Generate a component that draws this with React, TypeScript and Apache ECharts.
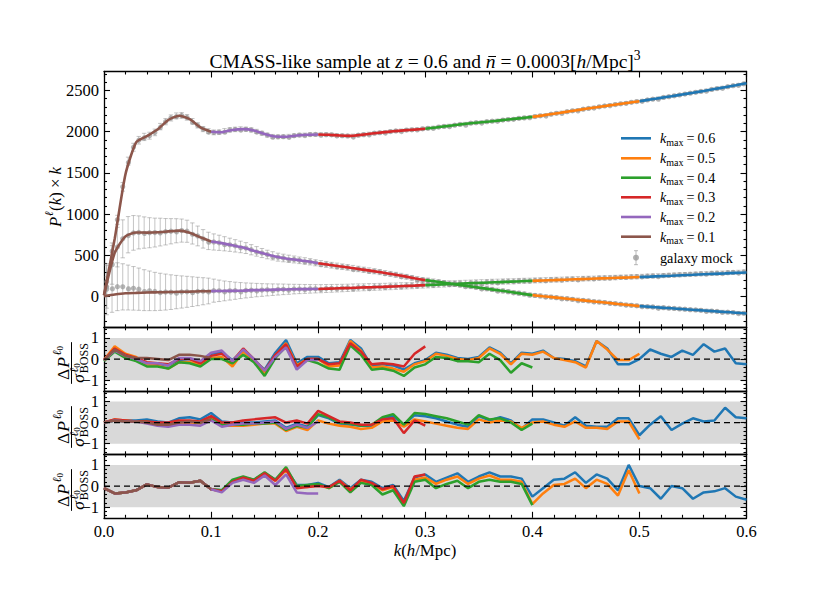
import React, { useEffect, useRef } from "react";
import * as echarts from "echarts";

const FONT = '"Liberation Serif", "Times New Roman", serif';

const KMAX = [0.6, 0.5, 0.4, 0.3, 0.2, 0.1];
const KMAX_LABELS = ["0.6", "0.5", "0.4", "0.3", "0.2", "0.1"];
const COLORS = ["#1f77b4", "#ff7f0e", "#2ca02c", "#d62728", "#9467bd", "#8c564b"];

const Y_MAIN_MAJOR = [0, 500, 1000, 1500, 2000, 2500];
const Y_MAIN_MINOR = [-300, -200, -100, 100, 200, 300, 400, 600, 700, 800, 900, 1100, 1200, 1300, 1400, 1600, 1700, 1800, 1900, 2100, 2200, 2300, 2400, 2600, 2700];
const Y_RES_MAJOR = [-1, 0, 1];
const Y_RES_MINOR = [-1.4, -1.2, -0.8, -0.6, -0.4, -0.2, 0.2, 0.4, 0.6, 0.8, 1.2, 1.4];
const BAND = [-1, 1];

// model k grid
const K_MODEL = [0.00, 0.01, 0.02, 0.03, 0.04, 0.05, 0.06, 0.07, 0.08, 0.09, 0.10, 0.11, 0.12, 0.13, 0.14, 0.15, 0.16, 0.17, 0.18, 0.19, 0.20, 0.21, 0.22, 0.23, 0.24, 0.25, 0.26, 0.27, 0.28, 0.29, 0.30, 0.31, 0.32, 0.33, 0.34, 0.35, 0.36, 0.37, 0.38, 0.39, 0.40, 0.41, 0.42, 0.43, 0.44, 0.45, 0.46, 0.47, 0.48, 0.49, 0.50, 0.51, 0.52, 0.53, 0.54, 0.55, 0.56, 0.57, 0.58, 0.59, 0.60];

const P0_MODEL = [20, 700, 1480, 1870, 1945, 2025, 2140, 2192, 2150, 2052,
  1998, 1992, 2020, 2030, 2013, 1970, 1940, 1937, 1952, 1962,
  1965, 1962, 1952, 1948, 1960, 1976, 1990, 2003, 2014, 2024,
  2034, 2050, 2066, 2082, 2098, 2110, 2122, 2136, 2150, 2163,
  2178, 2196, 2216, 2236, 2256, 2276, 2295, 2314, 2332, 2350,
  2368, 2388, 2408, 2428, 2450, 2470, 2492, 2515, 2538, 2561, 2585];
const P2_MODEL = [15, 530, 730, 777, 775, 779, 790, 800, 775, 720,
  668, 648, 622, 595, 555, 518, 485, 462, 445, 428,
  405, 385, 367, 350, 330, 312, 292, 270, 248, 222,
  200, 182, 163, 145, 127, 109, 91, 73, 55, 36,
  18, 4, -9, -22, -36, -49, -62, -75, -89, -102,
  -115, -124, -133, -142, -151, -160, -168, -177, -186, -195, -204];
const P4_MODEL = [5, 25, 40, 45, 50, 52, 55, 58, 60, 64,
  67, 68, 70, 73, 78, 80, 84, 87, 90, 91,
  93, 97, 101, 105, 110, 114, 118, 123, 128, 133,
  139, 144, 150, 155, 161, 166, 171, 176, 181, 186,
  191, 196, 200, 205, 210, 214, 219, 223, 228, 232,
  237, 242, 248, 253, 259, 264, 270, 276, 281, 287, 293];

// galaxy mock (bin centres)
const K_MOCK = [0.0025, 0.0075, 0.0125, 0.0175, 0.0225, 0.0275, 0.0325, 0.0375, 0.0425, 0.0475,
  0.0525, 0.0575, 0.0625, 0.0675, 0.0725, 0.0775, 0.0825, 0.0875, 0.0925, 0.0975,
  0.1025, 0.1075, 0.1125, 0.1175, 0.1225, 0.1275, 0.1325, 0.1375, 0.1425, 0.1475,
  0.1525, 0.1575, 0.1625, 0.1675, 0.1725, 0.1775, 0.1825, 0.1875, 0.1925, 0.1975,
  0.2025, 0.2075, 0.2125, 0.2175, 0.2225, 0.2275, 0.2325, 0.2375, 0.2425, 0.2475,
  0.2525, 0.2575, 0.2625, 0.2675, 0.2725, 0.2775, 0.2825, 0.2875, 0.2925, 0.2975,
  0.3025, 0.3075, 0.3125, 0.3175, 0.3225, 0.3275, 0.3325, 0.3375, 0.3425, 0.3475,
  0.3525, 0.3575, 0.3625, 0.3675, 0.3725, 0.3775, 0.3825, 0.3875, 0.3925, 0.3975,
  0.4025, 0.4075, 0.4125, 0.4175, 0.4225, 0.4275, 0.4325, 0.4375, 0.4425, 0.4475,
  0.4525, 0.4575, 0.4625, 0.4675, 0.4725, 0.4775, 0.4825, 0.4875, 0.4925, 0.4975,
  0.5025, 0.5075, 0.5125, 0.5175, 0.5225, 0.5275, 0.5325, 0.5375, 0.5425, 0.5475,
  0.5525, 0.5575, 0.5625, 0.5675, 0.5725, 0.5775, 0.5825, 0.5875, 0.5925, 0.5975];

const P0_MOCK = [180, 560, 930, 1330, 1640, 1810, 1895, 1935, 1950, 1990,
  2060, 2120, 2165, 2190, 2195, 2172, 2125, 2075, 2030, 2005,
  1990, 1992, 2008, 2020, 2026, 2032, 2028, 2020, 2002, 1980,
  1957, 1942, 1936, 1938, 1944, 1950, 1957, 1960, 1964, 1965,
  1966, 1963, 1960, 1955, 1950, 1947, 1950, 1956, 1963, 1972,
  1980, 1986, 1994, 2000, 2007, 2012, 2018, 2022, 2028, 2033,
  2040, 2046, 2055, 2062, 2070, 2078, 2086, 2094, 2102, 2108,
  2114, 2120, 2126, 2133, 2140, 2146, 2153, 2160, 2166, 2174,
  2182, 2191, 2200, 2210, 2221, 2231, 2241, 2251, 2261, 2271,
  2281, 2291, 2300, 2310, 2319, 2328, 2337, 2346, 2355, 2364,
  2373, 2383, 2393, 2403, 2413, 2423, 2434, 2444, 2455, 2465,
  2476, 2487, 2498, 2510, 2521, 2532, 2544, 2556, 2567, 2579];
const P2_MOCK = [120, 400, 600, 700, 750, 772, 778, 776, 774, 776,
  782, 786, 792, 798, 800, 792, 765, 735, 700, 675,
  662, 652, 640, 628, 615, 602, 588, 568, 548, 528,
  510, 494, 478, 468, 458, 450, 440, 432, 422, 410,
  400, 390, 380, 371, 362, 354, 345, 335, 325, 316,
  307, 297, 286, 275, 264, 253, 240, 227, 215, 203,
  196, 187, 178, 168, 159, 150, 141, 132, 123, 114,
  105, 96, 87, 78, 69, 60, 50, 41, 32, 22,
  14, 8, 1, -6, -13, -19, -26, -33, -39, -46,
  -52, -59, -66, -72, -79, -86, -92, -99, -105, -112,
  -117, -122, -126, -131, -135, -140, -144, -149, -153, -158,
  -162, -166, -171, -175, -180, -184, -189, -193, -198, -202];
const P4_MOCK = [90, 110, 120, 118, 110, 100, 90, 78, 70, 62,
  58, 55, 54, 55, 56, 58, 60, 62, 65, 68,
  72, 70, 69, 70, 71, 73, 75, 77, 79, 80,
  82, 84, 86, 88, 89, 91, 92, 93, 94, 95,
  96, 98, 100, 102, 104, 106, 109, 111, 113, 115,
  117, 119, 121, 124, 126, 129, 131, 134, 137, 140,
  143, 146, 149, 152, 155, 158, 161, 164, 166, 169,
  172, 174, 177, 179, 182, 184, 186, 189, 191, 193,
  196, 198, 200, 203, 205, 207, 210, 212, 214, 217,
  219, 221, 224, 226, 229, 231, 234, 236, 239, 241,
  244, 247, 250, 252, 255, 258, 261, 264, 267, 270,
  273, 276, 279, 282, 284, 287, 290, 293, 296, 299];

const E0_MOCK = [60, 58, 55, 52, 50, 48, 46, 44, 42, 40,
  39, 38, 37, 36, 35, 34, 33, 32, 31, 30,
  29, 28, 28, 27, 27, 26, 26, 25, 25, 24,
  24, 23, 23, 22, 22, 22, 21, 21, 21, 20,
  20, 20, 20, 20, 20, 20, 20, 20, 20, 20,
  19, 19, 19, 19, 19, 19, 19, 19, 19, 19,
  19, 19, 19, 19, 19, 18, 18, 18, 18, 18,
  18, 18, 18, 18, 18, 18, 18, 18, 18, 18,
  18, 18, 18, 18, 18, 18, 18, 18, 18, 18,
  17, 17, 17, 17, 17, 17, 17, 17, 17, 17,
  17, 17, 17, 17, 17, 17, 17, 17, 17, 17,
  17, 17, 17, 17, 17, 17, 17, 17, 17, 17];
const E2_MOCK = [260, 250, 240, 230, 220, 210, 200, 190, 182, 175,
  168, 160, 153, 146, 140, 134, 128, 120, 112, 105,
  98, 92, 86, 80, 75, 70, 66, 62, 58, 55,
  52, 50, 48, 46, 44, 42, 40, 39, 38, 37,
  36, 36, 35, 35, 34, 34, 33, 33, 32, 32,
  31, 31, 30, 30, 30, 29, 29, 29, 28, 28,
  28, 27, 27, 27, 27, 26, 26, 26, 26, 25,
  25, 25, 25, 24, 24, 24, 24, 24, 23, 23,
  23, 23, 23, 22, 22, 22, 22, 22, 22, 21,
  21, 21, 21, 21, 21, 21, 20, 20, 20, 20,
  20, 20, 20, 20, 20, 19, 19, 19, 19, 19,
  19, 19, 19, 19, 18, 18, 18, 18, 18, 18];
const E4_MOCK = [310, 300, 290, 280, 272, 264, 256, 248, 240, 232,
  225, 218, 210, 202, 195, 188, 180, 172, 164, 156,
  140, 130, 120, 112, 104, 97, 91, 86, 81, 77,
  73, 70, 67, 64, 61, 58, 56, 54, 52, 50,
  49, 48, 47, 46, 45, 44, 44, 43, 42, 42,
  41, 41, 40, 40, 39, 39, 38, 38, 37, 37,
  37, 37, 36, 36, 35, 35, 35, 34, 34, 34,
  33, 33, 33, 32, 32, 32, 31, 31, 31, 30,
  30, 30, 30, 29, 29, 29, 29, 28, 28, 28,
  28, 27, 27, 27, 27, 27, 26, 26, 26, 26,
  26, 26, 25, 25, 25, 25, 25, 25, 24, 24,
  24, 24, 24, 24, 24, 23, 23, 23, 23, 23];

// residuals (ell=0), one array per k_max, k = 0.00 .. k_max step 0.01
const RES0_K06 = [-0.05, 0.45, 0.15, 0.0, -0.2, -0.25, -0.3, -0.05, 0.0, -0.15,
  0.25, 0.3, -0.05, 0.4, -0.05, -0.5, 0.3, 0.9, -0.2, 0.1,
  0.1, -0.2, -0.15, 0.9, 0.5, -0.35, -0.25, -0.3, -0.5, -0.2,
  -0.05, 0.3, 0.2, 0.05, 0.0, 0.1, 0.55, 0.3, -0.2, 0.3,
  0.25, 0.4, 0.05, 0.0, -0.1, -0.35, 0.85, 0.5, -0.25, -0.25,
  0.0, 0.45, 0.25, 0.1, 0.4, 0.2, 0.7, 0.35, 0.5, -0.2, -0.25];
const RES0_K05 = [-0.05, 0.6, 0.25, 0.1, -0.25, -0.3, -0.45, -0.15, -0.15, -0.25,
  0.05, 0.1, -0.35, 0.35, -0.1, -0.7, 0.15, 0.75, -0.3, 0.0,
  0.0, -0.35, -0.3, 0.85, 0.4, -0.4, -0.35, -0.45, -0.6, -0.25,
  -0.1, 0.25, 0.15, 0.0, -0.05, 0.05, 0.5, 0.25, -0.25, 0.25,
  0.2, 0.35, 0.05, -0.05, -0.15, -0.4, 0.85, 0.45, -0.05, -0.05, 0.25];
const RES0_K04 = [-0.1, 0.35, 0.05, -0.1, -0.35, -0.35, -0.45, -0.15, -0.2, -0.35,
  0.0, 0.0, -0.2, 0.2, -0.15, -0.8, 0.05, 0.6, -0.35, -0.05,
  -0.2, -0.45, -0.5, 0.65, 0.2, -0.5, -0.45, -0.55, -0.8, -0.4,
  -0.25, 0.1, 0.05, -0.1, -0.1, -0.15, 0.25, -0.05, -0.65, -0.2, -0.4];
const RES0_K03 = [-0.05, 0.5, 0.2, 0.05, -0.15, -0.2, -0.25, 0.0, 0.0, -0.2,
  0.15, 0.25, -0.1, 0.5, 0.0, -0.55, 0.2, 0.7, -0.35, 0.0,
  0.0, -0.25, -0.2, 0.75, 0.35, -0.25, -0.2, -0.25, -0.35, 0.25, 0.6];
const RES0_K02 = [-0.05, 0.4, 0.15, 0.0, -0.2, -0.2, -0.3, 0.05, 0.05, -0.1,
  0.3, 0.4, -0.1, 0.45, 0.0, -0.55, 0.1, 0.55, -0.5, -0.05, -0.05];
const RES0_K01 = [-0.05, 0.45, 0.15, 0.05, 0.05, 0.0, -0.05, 0.2, 0.2, 0.15, 0.05];

// residuals (ell=2)
const RES2_K06 = [0.0, 0.1, 0.1, 0.1, 0.15, 0.05, 0.0, 0.2, 0.25, 0.15,
  0.45, 0.05, 0.0, 0.0, 0.0, 0.05, 0.1, -0.25, -0.05, -0.2,
  0.35, 0.2, -0.05, -0.1, -0.15, -0.15, 0.2, 0.3, -0.1, 0.35,
  0.3, 0.2, 0.05, -0.1, -0.2, 0.3, 0.1, 0.25, 0.1, -0.3,
  0.15, 0.15, 0.0, -0.15, 0.25, -0.15, -0.2, -0.2, 0.2, 0.2,
  -0.6, -0.1, 0.3, -0.35, -0.05, 0.2, 0.05, 0.1, 0.7, 0.25, 0.2];
const RES2_K05 = [0.0, 0.15, 0.1, 0.05, 0.0, -0.1, -0.15, -0.05, 0.0, -0.05,
  0.2, -0.15, -0.15, -0.15, -0.1, -0.05, -0.05, -0.4, -0.2, -0.35,
  0.1, -0.05, -0.15, -0.2, -0.3, -0.25, 0.05, 0.1, -0.2, 0.15,
  0.05, -0.05, -0.15, -0.25, -0.3, 0.15, 0.0, 0.1, 0.05, -0.25,
  0.0, 0.05, -0.1, -0.2, 0.05, -0.25, -0.25, -0.3, 0.05, 0.05, -0.8];
const RES2_K04 = [0.0, 0.1, 0.05, 0.05, 0.05, -0.05, -0.05, 0.05, 0.05, 0.0,
  0.15, -0.1, -0.1, -0.1, -0.05, -0.05, 0.0, -0.35, -0.15, -0.25,
  0.4, 0.25, 0.0, -0.05, -0.15, -0.1, 0.25, 0.4, -0.1, 0.45,
  0.4, 0.3, 0.2, 0.05, -0.1, 0.35, 0.15, 0.2, 0.0, -0.35, -0.05];
const RES2_K03 = [0.0, 0.15, 0.1, 0.05, 0.05, 0.0, 0.0, 0.1, 0.1, 0.05,
  0.3, 0.0, 0.0, 0.1, 0.15, 0.2, 0.25, 0.0, 0.1, -0.05,
  0.55, 0.3, 0.05, 0.0, -0.1, -0.1, 0.15, 0.2, -0.5, 0.1, -0.15];
const RES2_K02 = [0.0, 0.1, 0.05, 0.05, -0.05, -0.15, -0.2, -0.1, -0.1, -0.15,
  0.1, -0.2, -0.1, -0.05, -0.05, 0.0, 0.05, -0.3, -0.1, -0.25, 0.05];
const RES2_K01 = [0.0, 0.1, 0.05, 0.05, 0.0, -0.1, -0.1, 0.0, 0.05, 0.0, 0.15];

// residuals (ell=4)
const RES4_K06 = [-0.1, -0.35, -0.3, -0.2, 0.08, -0.05, -0.08, 0.18, 0.16, 0.25,
  -0.15, -0.2, 0.25, 0.4, 0.3, 0.6, 0.3, 0.8, 0.05, 0.05,
  0.15, -0.05, 0.3, -0.1, 0.3, 0.2, -0.1, 0.05, -0.7, 0.4,
  0.55, 0.2, 0.4, 0.6, 0.2, 0.45, 0.65, 0.45, 0.45, 0.35,
  -0.5, -0.1, 0.3, 0.35, 0.65, 0.15, 0.55, 0.35, -0.2, 1.0,
  0.0, -0.1, -0.6, 0.0, -0.1, -0.6, -0.3, -0.25, -0.1, -0.5, -0.65];
const RES4_K05 = [-0.1, -0.35, -0.3, -0.2, 0.08, -0.05, -0.08, 0.18, 0.16, 0.25,
  -0.15, -0.25, 0.2, 0.4, 0.25, 0.55, 0.25, 0.75, 0.0, -0.05,
  0.05, -0.1, 0.25, -0.15, 0.2, 0.1, -0.2, -0.05, -0.85, 0.3,
  0.4, 0.1, 0.3, 0.45, 0.1, 0.35, 0.5, 0.3, 0.3, 0.2,
  -0.85, -0.35, 0.05, 0.1, 0.35, -0.1, 0.3, 0.1, -0.45, 0.75, -0.35];
const RES4_K04 = [-0.1, -0.35, -0.3, -0.2, 0.08, -0.05, -0.08, 0.18, 0.16, 0.25,
  -0.15, -0.2, 0.3, 0.45, 0.3, 0.65, 0.3, 0.9, 0.0, 0.05,
  0.1, -0.1, 0.2, -0.3, 0.15, 0.05, -0.4, -0.2, -0.95, 0.2,
  0.3, -0.1, 0.1, 0.25, -0.1, 0.2, 0.3, 0.2, 0.2, 0.1, -0.9];
const RES4_K03 = [-0.1, -0.35, -0.3, -0.2, 0.08, -0.05, -0.08, 0.18, 0.16, 0.25,
  -0.15, -0.25, 0.2, 0.4, 0.25, 0.6, 0.25, 0.8, -0.1, -0.05,
  0.0, -0.05, 0.25, -0.2, 0.3, 0.15, -0.15, 0.0, -0.8, 0.45, 0.55];
const RES4_K02 = [-0.1, -0.35, -0.3, -0.2, 0.08, -0.05, -0.08, 0.18, 0.16, 0.25,
  -0.15, -0.3, 0.15, 0.3, 0.15, 0.5, 0.05, 0.55, -0.3, -0.35, -0.35];
const RES4_K01 = [-0.1, -0.35, -0.3, -0.2, 0.08, -0.05, -0.08, 0.18, 0.16, 0.25, -0.15];

const TITLE = ["CMASS-like sample at ", "z", " = 0.6 and ", "n", " = 0.0003[", "h", "/Mpc]", "3"];

// ---------------- layout helpers ----------------
let _ctx: CanvasRenderingContext2D | null = null;
function tw(t: string, s: number, it?: boolean) {
  if (!_ctx) _ctx = document.createElement("canvas").getContext("2d");
  _ctx!.font = `${it ? "italic " : ""}${s}px "Liberation Serif"`;
  return _ctx!.measureText(t).width;
}
function textEl(t: string, x: number, base: number, s: number, it?: boolean) {
  return {
    type: "text", x, y: base - 0.34 * s, silent: true,
    style: { text: t, fontSize: s, fontStyle: it ? "italic" : "normal", fontFamily: FONT, fill: "#000", align: "left", verticalAlign: "middle" },
  };
}
type Tok = { t: string; s: number; it?: boolean; dy?: number; g?: number };
function layout(toks: Tok[], x0: number, center: boolean) {
  const ws = toks.map((k) => tw(k.t, k.s, k.it) + (k.g || 0));
  const total = ws.reduce((a, b) => a + b, 0);
  let x = center ? x0 - total / 2 : x0;
  return toks.map((k, i) => {
    const p = x;
    x += ws[i];
    return { x: p, w: ws[i] };
  });
}
function run(toks: Tok[], x0: number, base: number, center: boolean) {
  const pos = layout(toks, x0, center);
  return toks.map((k, i) => textEl(k.t, pos[i].x, base + (k.dy || 0), k.s, k.it));
}

function resLabel(cx: number, cy: number) {
  const S = 17.5, s1 = 12, s2 = 9;
  const wD = tw("\u0394", S), wP = tw("P", S, true), wl = tw("\u2113", s1, true), w0 = tw("0", s2);
  const numW = wD + 1 + wP + 1.5 + wl + w0;
  const nb = -2.5;
  let x = -numW / 2;
  const ch: any[] = [];
  ch.push(textEl("\u0394", x, nb, S)); x += wD + 1;
  ch.push(textEl("P", x, nb, S, true)); x += wP + 1.5;
  ch.push(textEl("\u2113", x, nb - 8, s1, true)); x += wl;
  ch.push(textEl("0", x, nb - 5.5, s2));
  const wsig = tw("\u03c3", S, true), wB = tw("BOSS", s1);
  const denW = wsig + 1 + Math.max(wl + w0, wB);
  const db = 12;
  let x2 = -denW / 2;
  ch.push(textEl("\u03c3", x2, db, S, true)); x2 += wsig + 1;
  ch.push(textEl("\u2113", x2 + 0.5, db - 5.5, s1, true));
  ch.push(textEl("0", x2 + 0.5 + wl, db - 3.5, s2));
  ch.push(textEl("BOSS", x2, db + 5, s1));
  const bw = Math.max(numW, denW) + 2;
  ch.push({ type: "line", silent: true, shape: { x1: -bw / 2, y1: 0, x2: bw / 2, y2: 0 }, style: { stroke: "#000", lineWidth: 1 } });
  return { type: "group", x: cx, y: cy, rotation: Math.PI / 2, children: ch };
}

function buildOption() {
  const L = 104, W = 642.5;
  const grids = [
    { left: L, top: 71.5, width: W, height: 255.8 },
    { left: L, top: 327.3, width: W, height: 63.5 },
    { left: L, top: 390.8, width: W, height: 63.5 },
    { left: L, top: 454.3, width: W, height: 63.5 },
  ].map((g) => ({ ...g, containLabel: false, outerBoundsMode: "none" }));

  const TICKFS = 16.5;
  const xAxes: any[] = [];
  const yAxes: any[] = [];
  const lineSt = { color: "#000", width: 1.3 };
  const tickSt = { color: "#000", width: 1.1 };
  const fmtMain = (v: number) => String(Math.round(v));
  const fmtRes = (v: number) => (v < 0 ? "\u2212" + Math.abs(v) : String(v));

  function addAxes(gi: number, ymin: number, ymax: number, majors: number[], minors: number[], showX: boolean, fmt: any) {
    const xi = xAxes.length;
    ["bottom", "top"].forEach((pos, n) =>
      xAxes.push({
        type: "value", gridIndex: gi, position: pos, min: 0, max: 0.6, interval: 0.1,
        axisLine: { show: true, onZero: false, lineStyle: lineSt },
        axisTick: { show: true, inside: true, length: 6, lineStyle: tickSt },
        minorTick: { show: true, splitNumber: 5, length: 3, lineStyle: tickSt },
        axisLabel: { show: showX && n === 0, margin: 5, color: "#000", fontFamily: FONT, fontSize: TICKFS, formatter: (v: number) => v.toFixed(1), showMinLabel: true, showMaxLabel: true },
        splitLine: { show: false }, minorSplitLine: { show: false },
      })
    );
    const yi = yAxes.length;
    const defs: any[] = [["left", majors, 6, true, true], ["left", minors, 3, false, false], ["right", majors, 6, true, false], ["right", minors, 3, false, false]];
    defs.forEach(([pos, vals, len, line, lab]) =>
      yAxes.push({
        type: "value", gridIndex: gi, position: pos, min: ymin, max: ymax,
        axisLine: { show: line, onZero: false, lineStyle: lineSt },
        axisTick: { show: true, inside: true, length: len, customValues: vals, lineStyle: tickSt },
        minorTick: { show: false },
        axisLabel: { show: lab, customValues: vals, margin: 5, color: "#000", fontFamily: FONT, fontSize: TICKFS, formatter: fmt },
        splitLine: { show: false },
      })
    );
    return { xi, yi };
  }

  const A0 = addAxes(0, -372, 2728, Y_MAIN_MAJOR, Y_MAIN_MINOR, false, fmtMain);
  const AR = [1, 2, 3].map((g) => addAxes(g, -1.5, 1.5, Y_RES_MAJOR, Y_RES_MINOR, g === 3, fmtRes));

  const series: any[] = [];

  // galaxy mock error bars
  const errRender = (params: any, api: any) => {
    const k = api.value(0), v = api.value(1), e = api.value(2);
    const c = api.coord([k, v]);
    const t = api.coord([k, v + e]);
    const b = api.coord([k, v - e]);
    const st = { stroke: "rgba(140,140,140,0.5)", lineWidth: 1 };
    return {
      type: "group",
      children: [
        { type: "line", shape: { x1: c[0], y1: t[1], x2: c[0], y2: b[1] }, style: st },
        { type: "line", shape: { x1: c[0] - 2.2, y1: t[1], x2: c[0] + 2.2, y2: t[1] }, style: st },
        { type: "line", shape: { x1: c[0] - 2.2, y1: b[1], x2: c[0] + 2.2, y2: b[1] }, style: st },
        { type: "circle", shape: { cx: c[0], cy: c[1], r: 2.6 }, style: { fill: "rgba(150,150,150,0.7)" } },
      ],
    };
  };
  [[P0_MOCK, E0_MOCK], [P2_MOCK, E2_MOCK], [P4_MOCK, E4_MOCK]].forEach(([P, E]) => {
    series.push({
      type: "custom", xAxisIndex: A0.xi, yAxisIndex: A0.yi, silent: true, clip: true, z: 2,
      data: K_MOCK.map((k, i) => [k, P[i], E[i]]),
      encode: { x: 0, y: 1 },
      renderItem: errRender,
    });
  });

  // model curves, coloured by k-range
  [P0_MODEL, P2_MODEL, P4_MODEL].forEach((P) => {
    KMAX.forEach((km, j) => {
      const hi = Math.round(km * 100);
      const lo = hi - 10;
      series.push({
        type: "line", xAxisIndex: A0.xi, yAxisIndex: A0.yi, silent: true, z: 3,
        data: K_MODEL.slice(lo, hi + 1).map((k, i) => [k, P[lo + i]]),
        showSymbol: false, smooth: 0.2,
        lineStyle: { color: COLORS[j], width: 2.6 },
      });
    });
  });

  // residual panels
  const RES = [
    [RES0_K06, RES0_K05, RES0_K04, RES0_K03, RES0_K02, RES0_K01],
    [RES2_K06, RES2_K05, RES2_K04, RES2_K03, RES2_K02, RES2_K01],
    [RES4_K06, RES4_K05, RES4_K04, RES4_K03, RES4_K02, RES4_K01],
  ];
  RES.forEach((arr, p) => {
    const ax = AR[p];
    series.push({
      type: "custom", xAxisIndex: ax.xi, yAxisIndex: ax.yi, silent: true, z: 0,
      data: [[0, 0]],
      renderItem: (params: any, api: any) => {
        const p1 = api.coord([0, BAND[1]]);
        const p2 = api.coord([0.6, BAND[0]]);
        return { type: "rect", shape: { x: p1[0], y: p1[1], width: p2[0] - p1[0], height: p2[1] - p1[1] }, style: { fill: "#d9d9d9" } };
      },
    });
    arr.forEach((R, j) => {
      series.push({
        type: "line", xAxisIndex: ax.xi, yAxisIndex: ax.yi, silent: true, z: 3,
        data: R.map((v, i) => [K_MODEL[i], v]),
        showSymbol: false,
        lineStyle: { color: COLORS[j], width: 2.5 },
      });
    });
    series.push({
      type: "line", xAxisIndex: ax.xi, yAxisIndex: ax.yi, silent: true, z: 5,
      data: [[0, 0], [0.6, 0]], showSymbol: false,
      lineStyle: { color: "#000", width: 1.2, type: [6, 4] },
    });
  });

  // graphics: title, labels, legend
  const g: any[] = [];
  const TS = 19.5;
  const titleToks: Tok[] = [
    { t: TITLE[0], s: TS }, { t: TITLE[1], s: TS, it: true }, { t: TITLE[2], s: TS },
    { t: TITLE[3], s: TS, it: true }, { t: TITLE[4], s: TS }, { t: TITLE[5], s: TS, it: true },
    { t: TITLE[6], s: TS }, { t: TITLE[7], s: TS * 0.7, dy: -0.42 * TS },
  ];
  const TB = 68;
  const tpos = layout(titleToks, 425, true);
  g.push(...titleToks.map((k, i) => textEl(k.t, tpos[i].x, TB + (k.dy || 0), k.s, k.it)));
  // bar over n
  g.push({ type: "line", silent: true, shape: { x1: tpos[3].x + 2.5, y1: TB - 11.5, x2: tpos[3].x + tpos[3].w + 0.5, y2: TB - 11.5 }, style: { stroke: "#000", lineWidth: 1 } });

  const LS = 16.8;
  g.push(...run([
    { t: "k", s: LS, it: true }, { t: "(", s: LS }, { t: "h", s: LS, it: true }, { t: "/Mpc)", s: LS },
  ], 425, 550 + 0.34 * LS, true));

  g.push({
    type: "group", x: 55, y: 197, rotation: Math.PI / 2,
    children: run([
      { t: "P", s: LS, it: true, g: 0.5 }, { t: "\u2113", s: LS * 0.7, it: true, dy: -0.45 * LS, g: 0.5 },
      { t: "(", s: LS }, { t: "k", s: LS, it: true }, { t: ")", s: LS },
      { t: " \u00d7 ", s: LS }, { t: "k", s: LS, it: true },
    ], 0, 0.34 * LS, true),
  });

  g.push(resLabel(71.5, 363));
  g.push(resLabel(71.5, 427));
  g.push(resLabel(71.5, 490));

  const LFS = 14.2;
  const rows = [138.3, 158.3, 177.7, 197.3, 217, 236.7];
  rows.forEach((yc, i) => {
    g.push({ type: "line", silent: true, shape: { x1: 621, y1: yc, x2: 651, y2: yc }, style: { stroke: COLORS[i], lineWidth: 2.6 } });
    g.push(...run([
      { t: "k", s: LFS, it: true }, { t: "max", s: 10, dy: 2.6, g: 3 }, { t: "=", s: LFS, g: 3 }, { t: KMAX_LABELS[i], s: LFS },
    ], 660, yc + 0.34 * LFS, false));
  });
  const gy = 257.7;
  const gst = { stroke: "rgba(140,140,140,0.6)", lineWidth: 1 };
  g.push({ type: "line", silent: true, shape: { x1: 636, y1: gy - 7, x2: 636, y2: gy + 7 }, style: gst });
  g.push({ type: "line", silent: true, shape: { x1: 634, y1: gy - 7, x2: 638, y2: gy - 7 }, style: gst });
  g.push({ type: "line", silent: true, shape: { x1: 634, y1: gy + 7, x2: 638, y2: gy + 7 }, style: gst });
  g.push({ type: "circle", silent: true, shape: { cx: 636, cy: gy, r: 3 }, style: { fill: "rgba(150,150,150,0.75)" } });
  g.push(...run([{ t: "galaxy mock", s: LFS }], 660, gy + 0.34 * LFS, false));

  return {
    animation: false,
    backgroundColor: "#fff",
    textStyle: { fontFamily: FONT },
    grid: grids,
    xAxis: xAxes,
    yAxis: yAxes,
    series,
    graphic: g,
  };
}

export default function App() {
  const ref = useRef<HTMLDivElement>(null);
  useEffect(() => {
    const chart = echarts.init(ref.current!, null, { renderer: "svg" });
    chart.setOption(buildOption() as any);
    return () => chart.dispose();
  }, []);
  return <div ref={ref} style={{ position: "fixed", left: 0, top: 0, width: 830, height: 593, background: "#fff" }} />;
}
